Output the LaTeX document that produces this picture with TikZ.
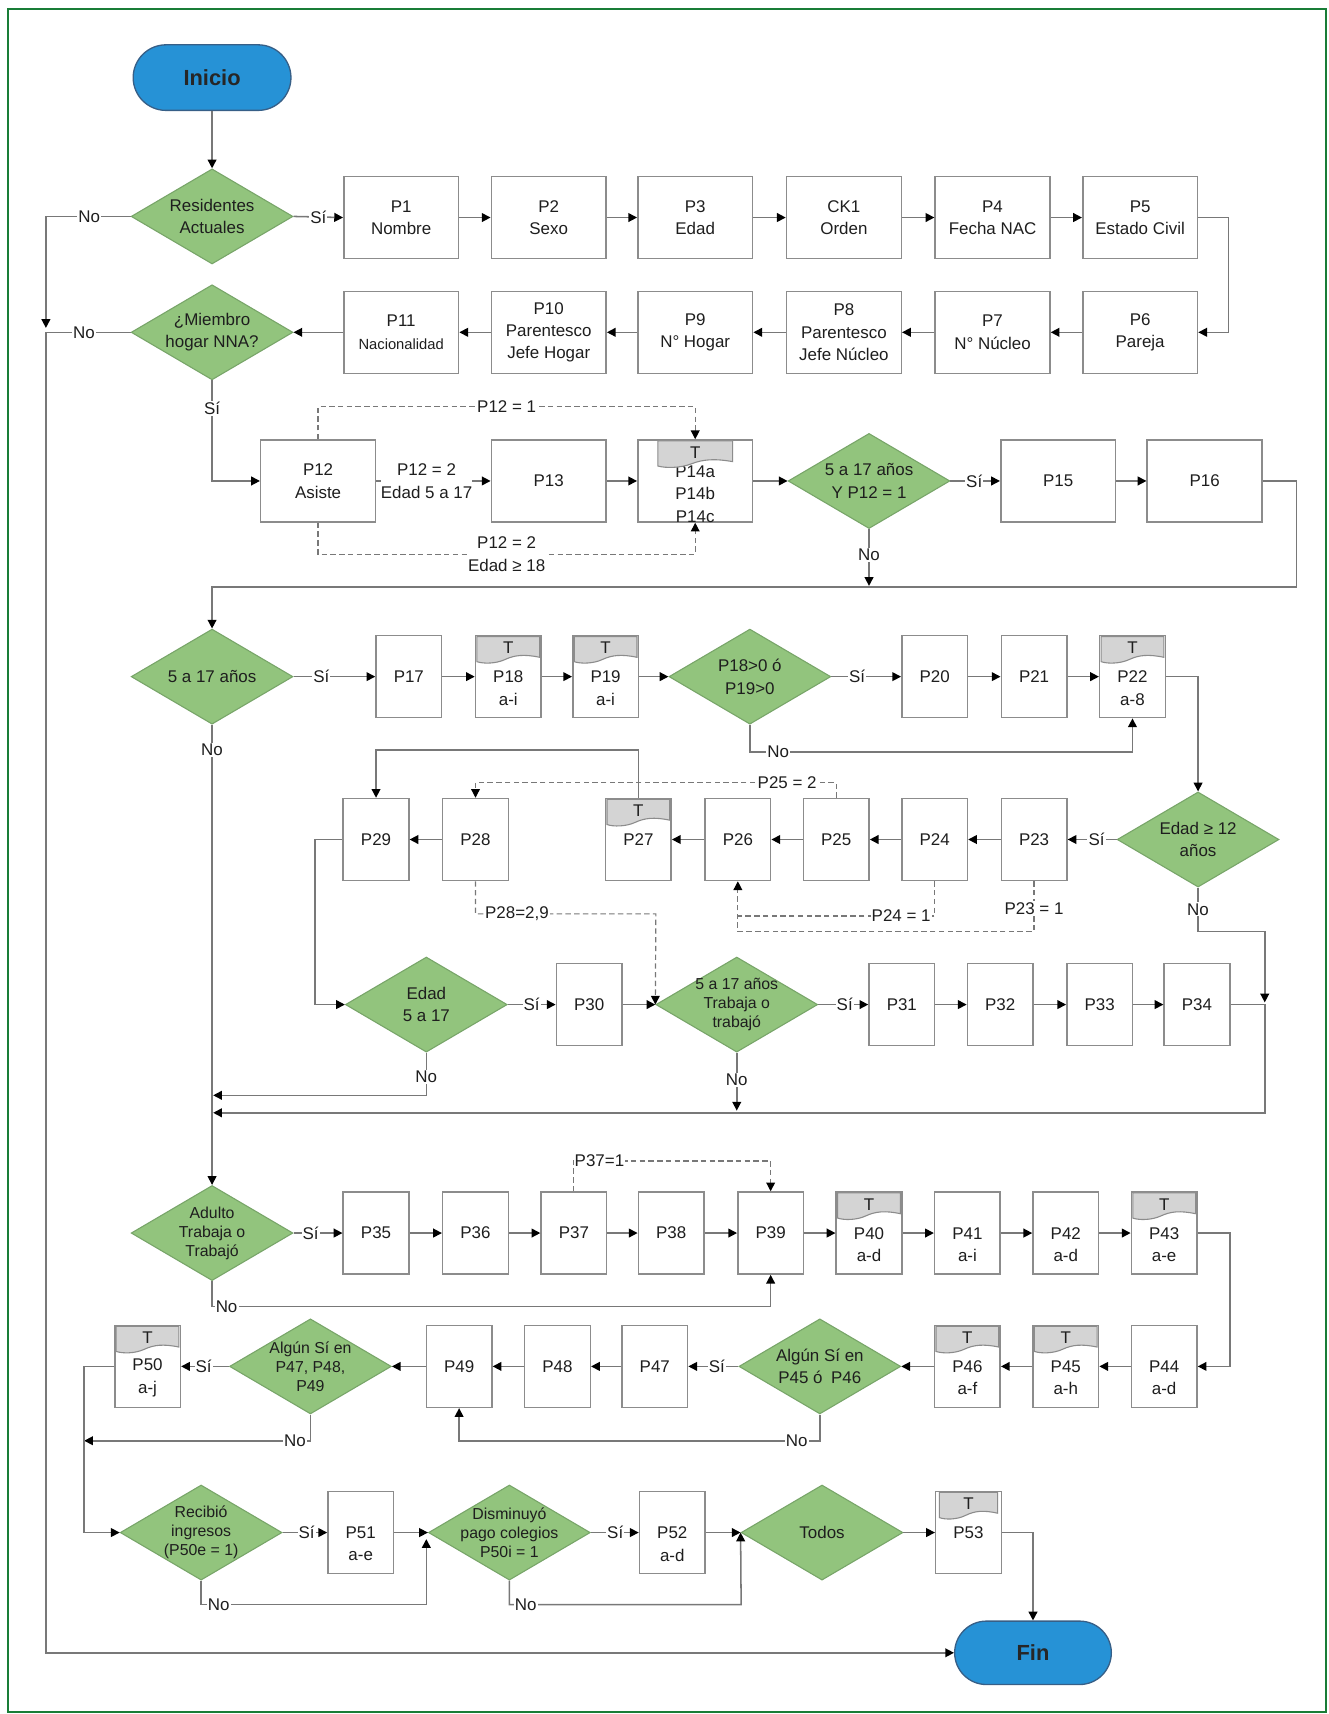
\documentclass[tikz,border=0pt]{standalone}
\usepackage{fontspec}
\setmainfont{Liberation Sans}
\usetikzlibrary{shapes.geometric,shapes.misc,arrows.meta,calc}
\definecolor{framec}{RGB}{25,125,55}
\definecolor{boxc}{RGB}{140,140,140}
\definecolor{linec}{RGB}{120,120,120}
\definecolor{diaf}{RGB}{146,196,125}
\definecolor{diac}{RGB}{120,165,105}
\definecolor{termf}{RGB}{38,146,214}
\definecolor{termc}{RGB}{55,95,135}
\definecolor{tabf}{RGB}{212,212,212}
\definecolor{txtc}{RGB}{30,30,30}
\newcommand\mytxt{\fontsize{15.5}{20.5}\selectfont}
\newcommand\mytxtc{\fontsize{14.5}{17.5}\selectfont}
\newcommand\ttab[2]{%
  \draw[draw=boxc,line width=1pt,fill=tabf]
   let \p1=($(#1.north west)+(#2,1.5)$), \p2=($(#1.north east)+(-#2,1.5)$), \n1={\x2-\x1} in
   (\p1) -- (\p2) -- (\x2,\y2-19pt) .. controls (\x2-0.25*\n1,\y2-16pt) and (\x1+0.6*\n1,\y2-17pt) .. (\x1+0.45*\n1,\y2-21pt) .. controls (\x1+0.3*\n1,\y2-25pt) and (\x1+0.1*\n1,\y2-25pt) .. (\x1,\y2-23pt) -- cycle;
  \node[btxt] (#1t) at ($(#1.north)+(0,12)$) {T};
}
\begin{document}
\begin{tikzpicture}[x=1pt,y=-1pt,
 font=\mytxt, text=txtc,
 btxt/.style={align=center,font=\mytxt,text=txtc,inner sep=0pt},
 box/.style={draw=boxc,line width=1.4pt,fill=white,minimum height=75pt,inner sep=1pt,align=center},
 wbox/.style={box,minimum width=105pt},
 nbox/.style={box,minimum width=60pt},
 low/.style={label={[btxt,yshift=-10.5pt]center:#1}},
 diab/.style={diamond,draw=diac,line width=1pt,fill=diaf,minimum width=148pt,minimum height=87pt,inner sep=0pt},
 dia/.style={diab,label={[btxt]center:#1}},
 dia3/.style={diab,label={[btxt,font=\mytxtc]center:#1}},
 term/.style={rounded rectangle,draw=termc,line width=1.2pt,fill=termf,minimum width=151pt,minimum height=60pt,font=\fontsize{20}{24}\selectfont\bfseries,text=black!85},
 con/.style={draw=linec,line width=1.4pt},
 arr/.style={con,-{Triangle[length=8pt,width=8pt,color=black]}},
 dsh/.style={draw=linec,line width=1.1pt,dash pattern=on 5pt off 3pt},
 darr/.style={dsh,-{Triangle[length=8pt,width=8pt,color=black]}},
 lbl/.style={fill=white,inner sep=1pt,font=\mytxt,align=center},
]
\useasboundingbox (0,0) rectangle (1215,1568);
\draw[framec,line width=2pt] (7,8) rectangle (1213,1566);

% ---------- nodes ----------
\node[term] (ini) at (194,71) {Inicio};
\node[dia={Residentes\\Actuales}] (d1) at (194,198) {};
\node[wbox] (p1) at (367,199) {P1\\Nombre};
\node[wbox] (p2) at (502,199) {P2\\Sexo};
\node[wbox] (p3) at (636,199) {P3\\Edad};
\node[wbox] (ck1) at (772,199) {CK1\\Orden};
\node[wbox] (p4) at (908,199) {P4\\Fecha NAC};
\node[wbox] (p5) at (1043,199) {P5\\Estado Civil};

\node[dia={¿Miembro\\hogar NNA?}] (d2) at (194,304) {};
\node[wbox] (p11) at (367,304) {P11\\{\fontsize{13.5}{20}\selectfont Nacionalidad}};
\node[wbox] (p10) at (502,304) {P10\\Parentesco\\Jefe Hogar};
\node[wbox] (p9) at (636,304) {P9\\N° Hogar};
\node[wbox] (p8) at (772,304) {P8\\Parentesco\\Jefe Núcleo};
\node[wbox] (p7) at (908,304) {P7\\N° Núcleo};
\node[wbox] (p6) at (1043,304) {P6\\Pareja};

\node[wbox] (p12) at (291,440) {P12\\Asiste};
\node[wbox] (p13) at (502,440) {P13};
\node[wbox,label={[btxt,yshift=-12pt]center:P14a\\P14b\\P14c}] (p14) at (636,440) {};
\node[dia={5 a 17 años\\Y P12 = 1}] (d3) at (795,440) {};
\node[wbox] (p15) at (968,440) {P15};
\node[wbox] (p16) at (1102,440) {P16};

\node[dia={5 a 17 años}] (d4) at (194,619) {};
\node[nbox] (p17) at (374,619) {P17};
\node[nbox,low={P18\\a-i}] (p18) at (465,619) {};
\node[nbox,low={P19\\a-i}] (p19) at (554,619) {};
\node[dia={P18>0 ó\\P19>0}] (d5) at (686,619) {};
\node[nbox] (p20) at (855,619) {P20};
\node[nbox] (p21) at (946,619) {P21};
\node[nbox,low={P22\\a-8}] (p22) at (1036,619) {};

\node[dia={Edad ≥ 12\\años}] (d6) at (1096,768) {};
\node[nbox] (p23) at (946,768) {P23};
\node[nbox] (p24) at (855,768) {P24};
\node[nbox] (p25) at (765,768) {P25};
\node[nbox] (p26) at (675,768) {P26};
\node[nbox] (p27) at (584,768) {P27};
\node[nbox] (p28) at (435,768) {P28};
\node[nbox] (p29) at (344,768) {P29};

\node[dia={Edad\\5 a 17}] (d7) at (390,919) {};
\node[nbox] (p30) at (539,919) {P30};
\node[dia3={5 a 17 años\\Trabaja o\\trabajó}] (d8) at (674,919) {};
\node[nbox] (p31) at (825,919) {P31};
\node[nbox] (p32) at (915,919) {P32};
\node[nbox] (p33) at (1006,919) {P33};
\node[nbox] (p34) at (1095,919) {P34};

\node[dia3={Adulto\\Trabaja o\\Trabajó}] (d9) at (194,1128) {};
\node[nbox] (p35) at (344,1128) {P35};
\node[nbox] (p36) at (435,1128) {P36};
\node[nbox] (p37) at (525,1128) {P37};
\node[nbox] (p38) at (614,1128) {P38};
\node[nbox] (p39) at (705,1128) {P39};
\node[nbox,low={P40\\a-d}] (p40) at (795,1128) {};
\node[nbox,low={P41\\a-i}] (p41) at (885,1128) {};
\node[nbox,low={P42\\a-d}] (p42) at (975,1128) {};
\node[nbox,low={P43\\a-e}] (p43) at (1065,1128) {};

\node[nbox,low={P44\\a-d}] (p44) at (1065,1250) {};
\node[nbox,low={P45\\a-h}] (p45) at (975,1250) {};
\node[nbox,low={P46\\a-f}] (p46) at (885,1250) {};
\node[dia={Algún Sí en\\P45 ó\enspace P46}] (d10) at (750,1250) {};
\node[nbox] (p47) at (599,1250) {P47};
\node[nbox] (p48) at (510,1250) {P48};
\node[nbox] (p49) at (420,1250) {P49};
\node[dia3={Algún Sí en\\P47, P48,\\P49}] (d11) at (284,1250) {};
\node[nbox,low={P50\\a-j}] (p50) at (135,1250) {};

\node[dia3={Recibió\\ingresos\\(P50e = 1)}] (d12) at (184,1402) {};
\node[nbox,low={P51\\a-e}] (p51) at (330,1402) {};
\node[dia3={Disminuyó\\pago colegios\\P50i = 1}] (d13) at (466,1402) {};
\node[nbox,low={P52\\a-d}] (p52) at (615,1402) {};
\node[dia={Todos}] (d14) at (752,1402) {};
\node[nbox] (p53) at (886,1402) {P53};
\node[term,minimum width=150pt,minimum height=58pt] (fin) at (945,1512) {Fin};

% tabs
\ttab{p14}{19}
\ttab{p18}{2}
\ttab{p19}{2}
\ttab{p22}{2}
\ttab{p27}{2}
\ttab{p40}{2}
\ttab{p43}{2}
\ttab{p45}{2}
\ttab{p46}{2}
\ttab{p50}{2}
\ttab{p53}{4}

\coordinate (m1) at (195,1002);
\coordinate (m2) at (195,1018);

% ---------- connectors ----------
\draw[arr] (ini.south) -- (d1.north);
\draw[arr] (d1.east) -- node[lbl](ls1){Sí} (p1.west);
\draw[arr] (p1) -- (p2);
\draw[arr] (p2) -- (p3);
\draw[arr] (p3) -- (ck1);
\draw[arr] (ck1) -- (p4);
\draw[arr] (p4) -- (p5);
\draw[arr] (p5.east) -- (1124,199) |- (p6.east);
\draw[arr] (p6) -- (p7);
\draw[arr] (p7) -- (p8);
\draw[arr] (p8) -- (p9);
\draw[arr] (p9) -- (p10);
\draw[arr] (p10) -- (p11);
\draw[arr] (p11) -- (d2.east);
\draw[arr] (d1.west) -- node[lbl,pos=0.49](ln1){No} (42,198) -- (42,300);
\draw[arr] (d2.west) -- node[lbl,pos=0.55](ln2){No} (42,304) -- (42,1512) -- (fin.west);
\draw[arr] (d2.south) -- node[lbl,pos=0.28](ls2){Sí} (194,440) -- (p12.west);

\draw[arr] (p12.east) -- node[lbl,pos=0.44,inner sep=0pt](l12){P12 = 2\\Edad 5 a 17} (p13.west);
\draw[darr] (p12.north) -- (291,372) -- node[lbl,pos=0.5](l121){P12 = 1} (636,372) -- (p14.north);
\draw[darr] (p12.south) -- (291,507) -- node[lbl,pos=0.5](l122){P12 = 2\\Edad ≥ 18} (636,507) -- (p14.south);
\draw[arr] (p13) -- (p14);
\draw[arr] (p14.east) -- (d3.west);
\draw[arr] (d3.east) -- node[lbl,pos=0.48](ls3){Sí} (p15.west);
\draw[arr] (p15) -- (p16);
\draw[arr] (d3.south) -- node[lbl,pos=0.45](ln3){No} (795,536);
\draw[arr] (p16.east) -- (1186,440) -- (1186,537) -- (194,537) -- (d4.north);

\draw[arr] (d4.east) -- node[lbl,pos=0.34](ls4){Sí} (p17.west);
\draw[arr] (p17) -- (p18);
\draw[arr] (p18) -- (p19);
\draw[arr] (p19.east) -- (d5.west);
\draw[arr] (d5.east) -- node[lbl,pos=0.37](ls5){Sí} (p20.west);
\draw[arr] (p20) -- (p21);
\draw[arr] (p21) -- (p22);
\draw[arr] (d5.south) -- (686,688) -- node[lbl,pos=0.074](ln5){No} (1036,688) -- (p22.south);
\draw[arr] (p22.east) -| (d6.north);

\draw[arr] (d6.west) -- node[lbl,pos=0.41](ls6){Sí} (p23.east);
\draw[arr] (p23) -- (p24);
\draw[arr] (p24) -- (p25);
\draw[arr] (p25) -- (p26);
\draw[arr] (p26) -- (p27);
\draw[arr] (p28) -- (p29);
\draw[arr] (p27.north) -- (584,686) -| (p29.north);
\draw[darr] (p25.north) -- (765,716) -- node[lbl,pos=0.136](l252){P25 = 2} (435,716) -- (p28.north);
\draw[dsh] (p24.south) -- (855,838) -- node[lbl,pos=0.17](l241){P24 = 1} (675,838);
\draw[darr] (p23.south) -- node[lbl,pos=0.54](l231){P23 = 1} (946,852) -- (675,852) -- (p26.south);
\draw[arr] (d6.south) -- node[lbl,pos=0.5](ln6){No} (1096,852) -- (1157,852) -- (1157,917);

\draw[darr] (p28.south) -- (435,836) -- node[lbl,pos=0.23](l28){P28=2,9} (600,836) -- (d8.west);
\draw[arr] (p29.west) -- (288,768) |- (d7.west);
\draw[arr] (d7.east) -- node[lbl,pos=0.5](ls7){Sí} (p30.west);
\draw[arr] (p30.east) -- (d8.west);
\draw[arr] (d8.east) -- node[lbl,pos=0.53](ls8){Sí} (p31.west);
\draw[arr] (p31) -- (p32);
\draw[arr] (p32) -- (p33);
\draw[arr] (p33) -- (p34);
\draw[arr] (p34.east) -- (1157,919) -- (1157,1018) -- (m2);
\draw[arr] (d7.south) -- node[lbl,pos=0.56](ln7){No} (390,1002) -- (m1);
\draw[arr] (d8.south) -- node[lbl,pos=0.47](ln8){No} (674,1016);
\draw[arr] (d4.south) -- node[lbl,pos=0.055](ln4){No} (d9.north);

\draw[arr] (d9.east) -- node[lbl,pos=0.35](ls9){Sí} (p35.west);
\draw[arr] (p35) -- (p36);
\draw[arr] (p36) -- (p37);
\draw[arr] (p37) -- (p38);
\draw[arr] (p38) -- (p39);
\draw[arr] (p39) -- (p40);
\draw[arr] (p40) -- (p41);
\draw[arr] (p41) -- (p42);
\draw[arr] (p42) -- (p43);
\draw[darr] (p37.north) -- (525,1062) -- node[lbl,pos=0.13](l37){P37=1} (705,1062) -- (p39.north);
\draw[arr] (d9.south) -- (194,1195) -- node[lbl,pos=0.026](ln9){No} (705,1195) -- (p39.south);
\draw[arr] (p43.east) -- (1125,1128) |- (p44.east);

\draw[arr] (p44) -- (p45);
\draw[arr] (p45) -- (p46);
\draw[arr] (p46.west) -- (d10.east);
\draw[arr] (d10.west) -- node[lbl,pos=0.43](ls10){Sí} (p47.east);
\draw[arr] (p47) -- (p48);
\draw[arr] (p48) -- (p49);
\draw[arr] (p49.west) -- (d11.east);
\draw[arr] (d11.west) -- node[lbl,pos=0.53](ls11){Sí} (p50.east);
\draw[arr] (d10.south) -- (750,1318) -- node[lbl,pos=0.064](ln10){No} (420,1318) -- (p49.south);
\draw[arr] (d11.south) -- (284,1318) -- node[lbl,pos=0.068](ln11){No} (77,1318);
\draw[arr] (p50.west) -- (77,1250) |- (d12.west);

\draw[arr] (d12.east) -- node[lbl,pos=0.54](ls12){Sí} (p51.west);
\draw[arr] (p51.east) -- (d13.west);
\draw[arr] (d12.south) -- (184,1468) -- node[lbl,pos=0.078](ln12){No} (390,1468) -- (390,1408);
\draw[arr] (d13.east) -- node[lbl,pos=0.51](ls13){Sí} (p52.west);
\draw[arr] (p52.east) -- (d14.west);
\draw[arr] (d13.south) -- (466,1468) -- node[lbl,pos=0.07](ln13){No} (678,1468) -- (d14.west);
\draw[arr] (d14.east) -- (p53.west);
\draw[arr] (p53.east) -- (945,1402) -- (fin.north);
\end{tikzpicture}
\end{document}
